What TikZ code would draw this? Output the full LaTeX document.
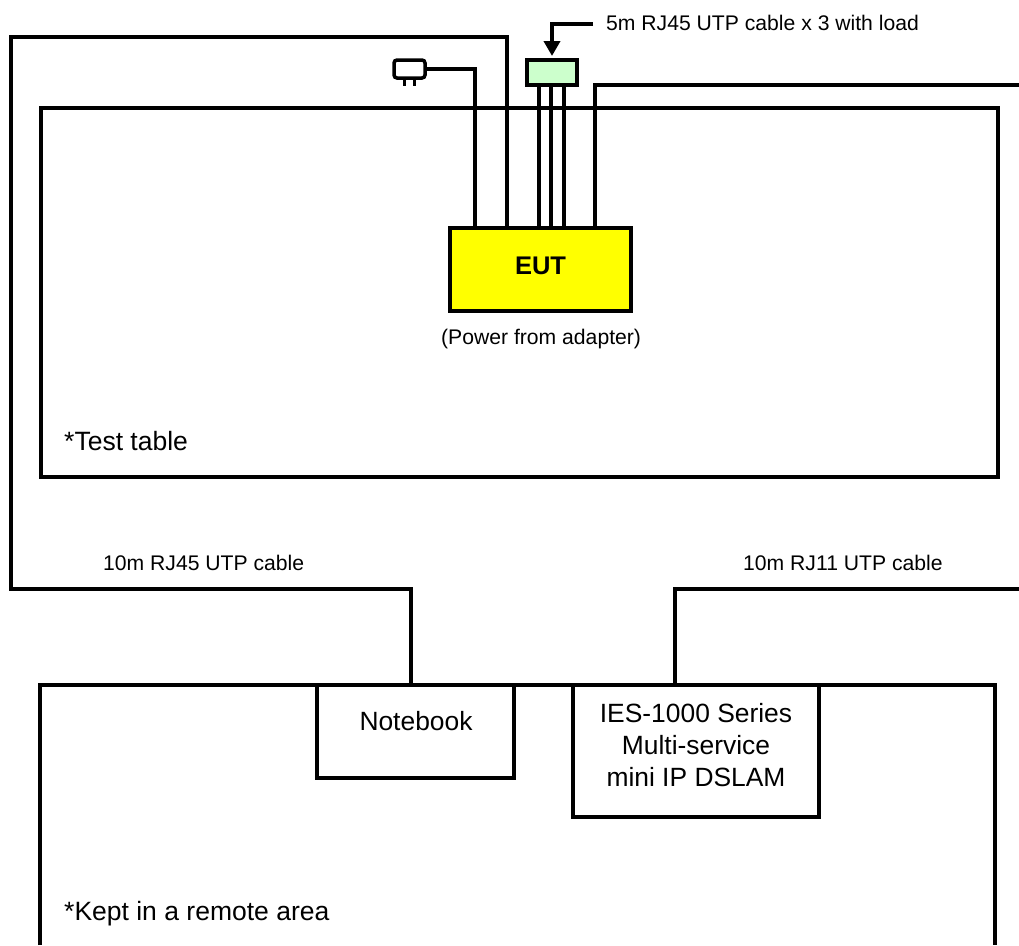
\documentclass[tikz,border=0pt]{standalone}
\usepackage{fontspec}
\setmainfont{Liberation Sans}
\usetikzlibrary{arrows.meta}
\definecolor{eutyellow}{RGB}{255,255,0}
\definecolor{loadgreen}{RGB}{204,255,204}
\begin{document}
\begin{tikzpicture}[x=1pt,y=-1pt,line join=miter,
  wire/.style={draw=black,line width=4pt},
  smalltxt/.style={font=\fontsize{21.15}{24}\selectfont,inner sep=0pt,anchor=base west},
  bigtxt/.style={font=\fontsize{26.5}{31}\selectfont,inner sep=0pt,anchor=base west},
  bigctr/.style={font=\fontsize{26.4}{31}\selectfont,inner sep=0pt,anchor=base}]
\useasboundingbox (0,0) rectangle (1019,945);
\fill[white] (0,0) rectangle (1019,945);
% test table
\node[draw=black,line width=4pt,inner sep=0pt,outer sep=0pt,minimum width=957pt,minimum height=369pt] (table) at (519.5,292.5) {};
% remote area (runs off the page)
\coordinate (rbl) at (40,945);
\coordinate (rtl) at (40,685);
\coordinate (rtr) at (995,685);
\coordinate (rbr) at (995,945);
\draw[wire] (rbl) -- (rtl) -- (rtr) -- (rbr);
% boxes
\node[draw=black,line width=4pt,fill=eutyellow,inner sep=0pt,outer sep=0pt,minimum width=181pt,minimum height=83pt] (eut) at (540.5,269.5) {};
\node[font=\bfseries\fontsize{25.5}{30}\selectfont,inner sep=0pt,anchor=base] (eutl) at (540.5,274) {EUT};
\node[draw=black,line width=4pt,fill=loadgreen,inner sep=0pt,outer sep=0pt,minimum width=50pt,minimum height=25pt] (load) at (552,72.5) {};
\node[draw=black,line width=4pt,fill=white,inner sep=0pt,outer sep=0pt,minimum width=197pt,minimum height=93pt] (nb) at (415.5,731.5) {};
\node[draw=black,line width=4pt,fill=white,inner sep=0pt,outer sep=0pt,minimum width=246pt,minimum height=132pt] (ies) at (696,751) {};
\node[draw=black,line width=3.5pt,fill=white,rounded corners=3pt,inner sep=0pt,outer sep=0pt,minimum width=31pt,minimum height=18pt] (plug) at (409.5,69) {};
% plug prongs
\coordinate (p1) at (404,86);
\coordinate (p2) at (414,86);
\draw[line width=3pt] (plug.south -| p1) -- (p1);
\draw[line width=3pt] (plug.south -| p2) -- (p2);
% cable ends
\coordinate (c1) at (475,69);
\coordinate (c2) at (507,37);
\coordinate (c3) at (11,37);
\coordinate (c4) at (11,589);
\coordinate (c5) at (411,589);
\coordinate (l1) at (538.5,0);
\coordinate (l2) at (551,0);
\coordinate (l3) at (563.5,0);
\coordinate (r1) at (595,85);
\coordinate (r2) at (1021,85);
\coordinate (d1) at (675,589);
\coordinate (d2) at (1021,589);
\coordinate (a1) at (593,24);
\coordinate (a2) at (552,24);
\coordinate (a3) at (552,56);
% connectors
\draw[wire] (plug.east) -- (c1) -- (c1 |- eut.north);
\draw[wire] (c2 |- eut.north) -- (c2) -- (c3) -- (c4) -- (c5) -- (c5 |- nb.north);
\draw[wire] (l1 |- eut.north) -- (l1 |- load.south);
\draw[wire] (l2 |- eut.north) -- (l2 |- load.south);
\draw[wire] (l3 |- eut.north) -- (l3 |- load.south);
\draw[wire] (r1 |- eut.north) -- (r1) -- (r2);
\draw[wire] (d1 |- ies.north) -- (d1) -- (d2);
\draw[line width=4pt,-{Triangle[width=16pt,length=15pt]}] (a1) -- (a2) -- (a3);
% labels
\node[smalltxt] (t1) at (606,30) {5m RJ45 UTP cable x 3 with load};
\node[smalltxt] (t2) at (441,344) {(Power from adapter)};
\node[bigtxt] (t3) at (64,450) {*Test table};
\node[smalltxt] (t4) at (103,570) {10m RJ45 UTP cable};
\node[smalltxt] (t5) at (743,570) {10m RJ11 UTP cable};
\node[bigctr] (t6) at (416,730) {Notebook};
\node[bigctr] (t7) at (696,722) {IES-1000 Series};
\node[bigctr] (t8) at (696,754) {Multi-service};
\node[bigctr] (t9) at (696,786) {mini IP DSLAM};
\node[bigtxt] (t10) at (64,920) {*Kept in a remote area};
\end{tikzpicture}
\end{document}
